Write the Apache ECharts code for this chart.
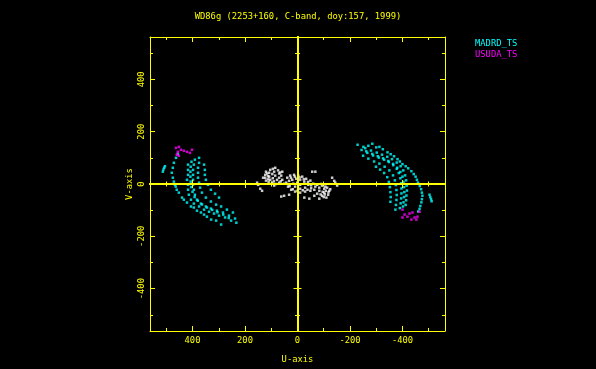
<!DOCTYPE html>
<html><head><meta charset="utf-8">
<script src="https://cdn.jsdelivr.net/npm/echarts@6/dist/echarts.min.js"></script>
<style>html,body{margin:0;padding:0;background:#000;}#c{width:596px;height:369px;}</style>
</head><body><div id="c"></div>
<script>
// ---------------- data ----------------
const titleText = 'WD86g (2253+160, C-band, doy:157, 1999)';
const xName = 'U-axis';
const yName = 'V-axis';
const seriesNames = ['MADRD_TS', 'USUDA_TS'];
const majorTicks = [-400, -200, 0, 200, 400];
const minorTicks = [-500, -300, -100, 100, 300, 500];
const axisMin = -562, axisMax = 562;

// MADRD_TS, left crescent (u, v)
const madrdLeftA = [[513,47],[511,55],[508,62],[505,68]];
const madrdLeftB = [[456,115],[463,100],[471,81],[475,62],[479,43],[475,24],[471,9],[467,-3],[464,-10],[460,-22],[452,-33],[440,-52],[433,-60],[421,-71],[406,-86],[395,-90],[383,-102],[368,-109],[356,-117],[345,-125],[329,-136],[310,-140],[291,-155],[233,-148]];
const madrdLeftC = [[417,74],[417,54],[417,35],[421,16],[417,-3],[417,-22],[414,-41],[406,-60],[395,-75],[375,-86],[356,-98],[337,-106],[318,-113],[299,-121],[276,-128],[253,-140]];
const madrdLeftG = [[404,85],[407,66],[408,47],[408,28],[407,9],[405,-12],[400,-30],[392,-50],[380,-64],[364,-78],[345,-90],[325,-99],[305,-108],[283,-117],[262,-130]];
const madrdLeftD = [[391,93],[395,74],[398,54],[398,35],[398,16],[398,-3],[395,-22],[391,-41],[383,-60],[368,-75],[349,-86],[330,-94],[307,-102],[284,-109],[261,-121],[238,-132]];
const madrdLeftE = [[375,100],[375,81],[379,62],[379,43],[379,24],[375,5],[371,-14],[364,-33],[349,-52],[330,-67],[310,-79],[291,-86],[269,-98],[246,-109]];
const madrdLeftF = [[356,74],[353,54],[353,35],[349,16],[341,-3],[330,-22],[314,-37],[299,-52]];
// MADRD_TS, right crescent
const madrdRightA = [[-503,-41],[-506,-50],[-509,-58],[-511,-66]];
const madrdRightB = [[-229,150],[-251,142],[-270,146],[-285,154],[-300,140],[-312,142],[-325,133],[-343,121],[-355,114],[-368,106],[-381,95],[-390,86],[-400,76],[-412,68],[-422,60],[-434,49],[-443,38],[-450,28],[-455,16],[-459,5],[-466,-8],[-471,-20],[-474,-33],[-476,-45],[-474,-58],[-472,-70],[-468,-84],[-465,-95],[-460,-105]];
const madrdRightC = [[-258,137],[-280,128],[-302,120],[-322,112],[-342,104],[-360,95],[-378,82],[-393,68],[-403,52],[-410,33],[-414,14],[-416,-6],[-417,-25],[-415,-44],[-414,-62],[-412,-80]];
const madrdRightG = [[-262,125],[-285,115],[-306,106],[-326,98],[-346,88],[-364,77],[-380,62],[-392,46],[-400,28],[-404,8],[-406,-12],[-407,-31],[-406,-50],[-404,-70],[-402,-86]];
const madrdRightD = [[-244,130],[-266,119],[-288,109],[-310,101],[-330,93],[-348,84],[-365,72],[-378,58],[-386,42],[-392,22],[-395,3],[-396,-17],[-396,-36],[-395,-55],[-393,-74],[-390,-92]];
const madrdRightE = [[-250,108],[-270,97],[-292,86],[-312,78],[-332,66],[-350,52],[-364,33],[-371,14],[-375,-4],[-377,-23],[-378,-42],[-377,-61],[-375,-80],[-373,-98]];
const madrdRightF = [[-299,66],[-315,55],[-330,42],[-342,26],[-348,8],[-352,-12],[-354,-31],[-355,-50],[-354,-68]];

// USUDA_TS
const usudaLeft = [[463,138],[452,142],[444,131],[456,123],[433,127],[421,123],[410,119],[402,131],[452,108],[460,112]];
const usudaRight = [[-408,-117],[-419,-125],[-438,-109],[-446,-128],[-453,-136],[-457,-125],[-434,-136],[-465,-106],[-400,-98],[-427,-113],[-400,-128]];

// short baselines (white, centre)
const centrePts = [[154,5],[150,-3],[142,-18],[135,-26],[131,24],[120,47],[123,35],[123,24],[120,13],
  [104,54],[108,43],[108,28],[104,16],[97,5],[89,-6],[85,62],[89,47],[85,32],[78,16],[70,5],
  [58,47],[62,32],[58,16],[51,1],
  [116,40],[112,30],[112,18],[110,8],[94,58],[96,38],[94,22],[90,10],[82,0],[74,52],[70,40],[70,24],[64,10],[66,44],
  [39,24],[28,32],[13,35],[-3,32],[-18,28],[-33,20],[-49,13],[-60,1],[-68,-10],[-64,-22],[-49,-26],[-29,-29],[-10,-33],[9,-29],[24,-22],[36,-10],[43,5],
  [32,12],[25,24],[10,28],[-8,25],[-24,18],[-40,8],[-52,-5],[-52,-16],[-38,-22],[-20,-24],[0,-26],[18,-20],[30,-8],
  [20,16],[5,20],[-10,16],[-26,9],[-41,-3],[-29,-14],[-10,-18],[9,-10],[16,1],[1,5],[-10,-3],
  [-75,-3],[-83,-14],[-83,-26],[-75,-37],[-64,-45],[-94,-6],[-102,-18],[-102,-33],[-94,-45],[-83,-56],
  [-90,0],[-96,-30],[-88,-40],[-106,-10],[-108,-26],[-104,-40],[-118,-32],[-125,-20],[-140,12],[-100,-50],
  [-113,-14],[-121,-26],[-117,-41],[-110,-52],[-132,24],[-144,5],[-151,-6],[-56,47],[-68,47],
  [62,-48],[51,-45],[32,-41],[-26,-52],[-45,-56]];

// ---------------- chart ----------------
const YEL = '#ffff00';
const CYAN = '#00ffff';
const MAG = '#ff00ff';
const FONT = 'DejaVu Sans Mono';
const FS = 8.8;

function mkAxis(o) {
  return {
    type: 'value', min: axisMin, max: axisMax, position: o.pos, inverse: !!o.inverse,
    splitLine: { show: false },
    axisLine: { show: o.line !== false, onZero: !!o.onZero, onZeroAxisIndex: o.onZero ? 0 : undefined,
      lineStyle: { color: YEL, width: o.lw || 1 } },
    axisTick: { show: true, inside: o.inside, length: o.len, customValues: o.ticks,
      lineStyle: { color: YEL, width: 1 } },
    axisLabel: o.labels ? { show: true, customValues: majorTicks, color: YEL, fontFamily: FONT, fontSize: FS,
      margin: o.margin, rotate: o.rotate || 0 } : { show: false },
    name: o.name || '', nameLocation: 'middle', nameGap: o.nameGap || 0,
    nameTextStyle: { color: YEL, fontFamily: FONT, fontSize: FS },
    z: 5
  };
}

const xAxes = [
  mkAxis({pos:'bottom', inverse:true, inside:true, len:5, ticks:majorTicks, labels:true, margin:5, name:xName, nameGap:24}),
  mkAxis({pos:'bottom', inverse:true, inside:true, len:3, ticks:minorTicks, line:false}),
  mkAxis({pos:'top', inverse:true, inside:true, len:5, ticks:majorTicks}),
  mkAxis({pos:'top', inverse:true, inside:true, len:3, ticks:minorTicks, line:false}),
  mkAxis({pos:'bottom', inverse:true, onZero:true, lw:2, inside:true, len:4, ticks:majorTicks}),
  mkAxis({pos:'bottom', inverse:true, onZero:true, lw:2, inside:false, len:4, ticks:majorTicks}),
  mkAxis({pos:'bottom', inverse:true, onZero:true, lw:2, inside:true, len:2.5, ticks:minorTicks}),
  mkAxis({pos:'bottom', inverse:true, onZero:true, lw:2, inside:false, len:2.5, ticks:minorTicks})
];
const yAxes = [
  mkAxis({pos:'left', inside:true, len:5, ticks:majorTicks, labels:true, margin:4, rotate:90, name:yName, nameGap:16}),
  mkAxis({pos:'left', inside:true, len:3, ticks:minorTicks, line:false}),
  mkAxis({pos:'right', inside:true, len:5, ticks:majorTicks}),
  mkAxis({pos:'right', inside:true, len:3, ticks:minorTicks, line:false}),
  mkAxis({pos:'left', onZero:true, lw:2, inside:true, len:4, ticks:majorTicks}),
  mkAxis({pos:'left', onZero:true, lw:2, inside:false, len:4, ticks:majorTicks}),
  mkAxis({pos:'left', onZero:true, lw:2, inside:true, len:2.5, ticks:minorTicks}),
  mkAxis({pos:'left', onZero:true, lw:2, inside:false, len:2.5, ticks:minorTicks})
];

const madrdAll = [].concat(madrdLeftA, madrdLeftB, madrdLeftC, madrdLeftG, madrdLeftD, madrdLeftE, madrdLeftF,
  madrdRightA, madrdRightB, madrdRightC, madrdRightG, madrdRightD, madrdRightE, madrdRightF);
const usudaAll = [].concat(usudaLeft, usudaRight);

function pts(name, data, color) {
  return { name: name, type: 'scatter', data: data, symbol: 'rect', symbolSize: 2.5,
    itemStyle: { color: color }, xAxisIndex: 0, yAxisIndex: 0, silent: true, z: 3 };
}

const chart = echarts.init(document.getElementById('c'));
chart.setOption({
  backgroundColor: '#000000',
  animation: false,
  title: { text: titleText, left: 'center', top: 12, padding: 0,
    textStyle: { color: YEL, fontFamily: FONT, fontSize: FS, fontWeight: 'normal', lineHeight: 10 } },
  legend: { orient: 'vertical', left: 470, top: 38, padding: 0, itemWidth: 0, itemHeight: 0, itemGap: 0,
    icon: 'rect', selectedMode: false,
    textStyle: { fontFamily: FONT, fontSize: FS, lineHeight: 11 },
    data: [ { name: seriesNames[0], textStyle: { color: CYAN } }, { name: seriesNames[1], textStyle: { color: MAG } } ] },
  grid: { left: 150, top: 37, width: 295, height: 294, containLabel: false },
  xAxis: xAxes,
  yAxis: yAxes,
  series: [
    pts('centre', centrePts, '#ffffff'),
    pts(seriesNames[0], madrdAll, CYAN),
    pts(seriesNames[1], usudaAll, MAG)
  ]
});
</script>
</body></html>
